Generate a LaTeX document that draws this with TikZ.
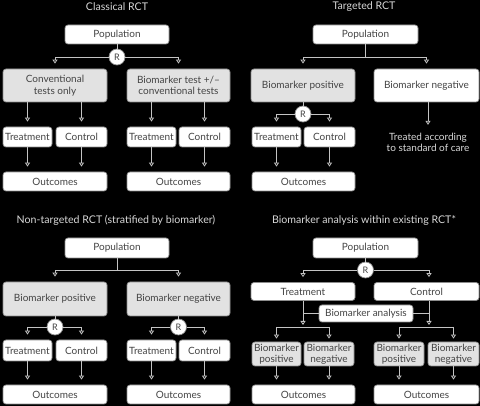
\documentclass[tikz,border=0pt]{standalone}
\usepackage{fontspec}
\setmainfont{Lato}
\usetikzlibrary{arrows.meta}
\definecolor{boxline}{HTML}{8C8C8C}
\definecolor{boxgray}{HTML}{E2E2E2}
\definecolor{txt}{HTML}{444444}
\definecolor{wire}{HTML}{C4C4C4}
\definecolor{ttl}{HTML}{D8D8D8}
\tikzset{
  box/.style={draw=boxline, line width=0.7pt, fill=white, rounded corners=3pt, text=txt, font=\fontsize{10}{11.5}\selectfont, inner sep=0pt, align=center},
  gbox/.style={box, fill=boxgray},
  rnode/.style={circle, draw=boxline, line width=0.7pt, fill=white, text=txt, minimum size=16pt, inner sep=0pt, font=\fontsize{9}{10}\selectfont},
  ttlstyle/.style={text=ttl, font=\fontsize{10.6}{12}\selectfont, inner sep=0pt},
  ln/.style={draw=wire, line width=0.8pt},
  arr/.style={ln, -{Triangle[open, length=4pt, width=5pt]}, shorten >=5pt}
}
\begin{document}
\begin{tikzpicture}[x=1pt, y=-1pt]
\useasboundingbox (0,0) rectangle (480,406);
\fill[black] (0,0) rectangle (480,406);

% ---------- Classical RCT ----------
\node[ttlstyle] (tA) at (117,7) {Classical RCT};
\node[box, minimum width=104pt, minimum height=19pt] (popA) at (117,34.5) {Population};
\node[gbox, minimum width=104pt, minimum height=33pt] (convA) at (55,85.5) {Conventional\\tests only};
\node[gbox, minimum width=103pt, minimum height=33pt] (bioA) at (178.5,85.5) {Biomarker test +/–\\conventional tests};
\node[box, minimum width=49pt, minimum height=20pt] (trA1) at (27.5,137) {Treatment};
\node[box, minimum width=51pt, minimum height=20pt] (coA1) at (81.5,137) {Control};
\node[box, minimum width=49pt, minimum height=20pt] (trA2) at (151.5,137) {Treatment};
\node[box, minimum width=51pt, minimum height=20pt] (coA2) at (204.5,137) {Control};
\node[box, minimum width=104pt, minimum height=19pt] (outA1) at (55,181.5) {Outcomes};
\node[box, minimum width=103pt, minimum height=19pt] (outA2) at (178.5,181.5) {Outcomes};
\node[rnode] (rA) at (117,57) {R};
\draw[ln] (popA) -- (rA);
\draw[arr] (rA) -| (convA.north);
\draw[arr] (rA) -| (bioA.north);
\foreach \t/\s in {trA1/convA, coA1/convA, trA2/bioA, coA2/bioA}{
  \draw[arr] (\s.south -| \t.north) -- (\t.north);
}
\foreach \t/\o in {trA1/outA1, coA1/outA1, trA2/outA2, coA2/outA2}{
  \draw[arr] (\t.south) -- (\t.south |- \o.north);
}

% ---------- Targeted RCT ----------
\node[ttlstyle] (tB) at (364,7) {Targeted RCT};
\node[box, minimum width=105pt, minimum height=19pt] (popB) at (365.5,34.5) {Population};
\coordinate (jB) at (365.5,57);
\node[gbox, minimum width=104pt, minimum height=33pt] (bposB) at (303,85.5) {Biomarker positive};
\node[box, minimum width=105pt, minimum height=33pt] (bnegB) at (426.5,85.5) {Biomarker negative};
\node[rnode] (rB) at (303,114) {R};
\node[box, minimum width=49pt, minimum height=20pt] (trB) at (276.5,137) {Treatment};
\node[box, minimum width=51pt, minimum height=20pt] (coB) at (329.5,137) {Control};
\node[box, minimum width=103pt, minimum height=19pt] (outB) at (303.5,181.5) {Outcomes};
\node[text=ttl, font=\fontsize{10}{11.5}\selectfont, align=center, inner sep=0pt] (careB) at (428,142.5) {Treated according\\to standard of care};
\draw[ln] (popB) -- (jB);
\draw[arr] (jB) -| (bposB.north);
\draw[arr] (jB) -| (bnegB.north);
\draw[ln] (bposB) -- (rB);
\draw[arr] (rB) -| (trB.north);
\draw[arr] (rB) -| (coB.north);
\draw[arr, shorten >=8pt] (bnegB.south -| careB.north) -- (careB.north);
\draw[arr] (trB.south) -- (trB.south |- outB.north);
\draw[arr] (coB.south) -- (coB.south |- outB.north);

% ---------- Non-targeted RCT ----------
\node[ttlstyle] (tC) at (116,220) {Non-targeted RCT (stratified by biomarker)};
\node[box, minimum width=104pt, minimum height=20pt] (popC) at (117,248) {Population};
\coordinate (jC) at (117,270);
\node[gbox, minimum width=104pt, minimum height=34pt] (bposC) at (55,299) {Biomarker positive};
\node[gbox, minimum width=103pt, minimum height=34pt] (bnegC) at (178.5,299) {Biomarker negative};
\node[rnode] (rC1) at (55,327) {R};
\node[rnode] (rC2) at (178.5,327) {R};
\node[box, minimum width=49pt, minimum height=21pt] (trC1) at (27.5,350.5) {Treatment};
\node[box, minimum width=51pt, minimum height=21pt] (coC1) at (81.5,350.5) {Control};
\node[box, minimum width=49pt, minimum height=21pt] (trC2) at (151.5,350.5) {Treatment};
\node[box, minimum width=51pt, minimum height=21pt] (coC2) at (204.5,350.5) {Control};
\node[box, minimum width=104pt, minimum height=19pt] (outC1) at (55,394.5) {Outcomes};
\node[box, minimum width=103pt, minimum height=19pt] (outC2) at (178.5,394.5) {Outcomes};
\draw[ln] (popC) -- (jC);
\draw[arr] (jC) -| (bposC.north);
\draw[arr] (jC) -| (bnegC.north);
\draw[ln] (bposC) -- (rC1);
\draw[ln] (bnegC) -- (rC2);
\draw[arr] (rC1) -| (trC1.north);
\draw[arr] (rC1) -| (coC1.north);
\draw[arr] (rC2) -| (trC2.north);
\draw[arr] (rC2) -| (coC2.north);
\foreach \t/\o in {trC1/outC1, coC1/outC1, trC2/outC2, coC2/outC2}{
  \draw[arr] (\t.south) -- (\t.south |- \o.north);
}

% ---------- Biomarker analysis within existing RCT ----------
\node[ttlstyle] (tD) at (364,220) {Biomarker analysis within existing RCT*};
\node[box, minimum width=105pt, minimum height=20pt] (popD) at (365.5,248) {Population};
\node[rnode] (rD) at (365.5,270) {R};
\node[box, minimum width=104pt, minimum height=18pt] (trD) at (303,291.5) {Treatment};
\node[box, minimum width=105pt, minimum height=18pt] (coD) at (426.5,291.5) {Control};
\node[box, minimum width=94pt, minimum height=17pt] (baD) at (366,313.5) {Biomarker analysis};
\coordinate (barD1) at (303,327);
\coordinate (barD2) at (429,327);
\node[gbox, minimum width=49pt, minimum height=24pt] (bpD1) at (276.5,354) {Biomarker\\positive};
\node[gbox, minimum width=50pt, minimum height=24pt] (bnD1) at (329,354) {Biomarker\\negative};
\node[gbox, minimum width=50pt, minimum height=24pt] (bpD2) at (399,354) {Biomarker\\positive};
\node[gbox, minimum width=51pt, minimum height=24pt] (bnD2) at (453.5,354) {Biomarker\\negative};
\node[box, minimum width=103pt, minimum height=19pt] (outD1) at (303.5,394.5) {Outcomes};
\node[box, minimum width=105pt, minimum height=19pt] (outD2) at (426.5,394.5) {Outcomes};
\draw[ln] (popD) -- (rD);
\draw[arr] (rD) -| (trD.north);
\draw[arr] (rD) -| (coD.north -| barD2);
\draw[arr, shorten >=2pt] (trD.south) -- (barD1);
\draw[arr, shorten >=2pt] (coD.south -| barD2) -- (barD2);
\draw[ln] (baD.west) -- (baD.west -| barD1);
\draw[ln] (baD.east) -- (baD.east -| barD2);
\draw[ln] (bpD1.north |- barD1) -- (bnD1.north |- barD1);
\draw[ln] (bpD2.north |- barD2) -- (bnD2.north |- barD2);
\foreach \b/\c in {bpD1/barD1, bnD1/barD1, bpD2/barD2, bnD2/barD2}{
  \draw[arr, shorten >=3pt] (\b.north |- \c) -- (\b.north);
}
\foreach \t/\o in {bpD1/outD1, bnD1/outD1, bpD2/outD2, bnD2/outD2}{
  \draw[arr] (\t.south) -- (\t.south |- \o.north);
}
\end{tikzpicture}
\end{document}
